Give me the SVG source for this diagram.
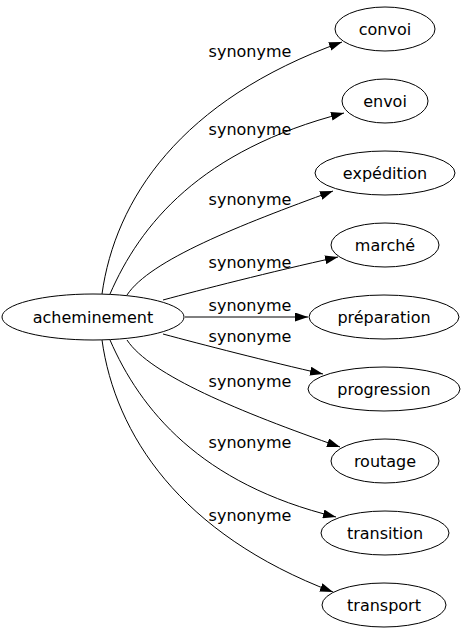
<svg xmlns="http://www.w3.org/2000/svg" width="465" height="635" viewBox="0 0 465 635">
<defs>
<marker id="arr" viewBox="0 0 13 9" refX="13" refY="4.5" markerWidth="13" markerHeight="9" markerUnits="userSpaceOnUse" orient="auto">
<path d="M0,0 L13,4.5 L0,9 Z" fill="#000"/>
</marker>
<style>
ellipse{fill:#fff;stroke:#000;stroke-width:1}
text{font-family:"DejaVu Sans",sans-serif;font-size:16px;fill:#000;text-anchor:middle}
.e{fill:none;stroke:#000;stroke-width:1;marker-end:url(#arr)}
</style>
</defs>
<rect width="465" height="635" fill="#fff"/>
<g id="connectors">
<path class="e" d="M102,294 C115,200 180,100 342,42"/>
<path class="e" d="M110,294 C140,225 200,150 344,113"/>
<path class="e" d="M127,295 C150,260 240,225 333,191"/>
<path class="e" d="M163,300 C200,290 270,272 338,257"/>
<path class="e" d="M185,317 L308,317"/>
<path class="e" d="M163,334 C200,344 270,362 323,374"/>
<path class="e" d="M127,340 C150,375 240,412 340,447"/>
<path class="e" d="M110,340 C140,409 200,484 336,517"/>
<path class="e" d="M102,340 C115,434 180,534 333,592"/>
<text x="250" y="57">synonyme</text>
<text x="250" y="135">synonyme</text>
<text x="250" y="205">synonyme</text>
<text x="250" y="268">synonyme</text>
<text x="250" y="311">synonyme</text>
<text x="250" y="342">synonyme</text>
<text x="250" y="387">synonyme</text>
<text x="250" y="448">synonyme</text>
<text x="250" y="521">synonyme</text>
</g>
<g id="acheminement"><ellipse cx="93" cy="317" rx="91" ry="23"/><text x="93" y="323">acheminement</text></g>
<g id="convoi"><ellipse cx="385" cy="29" rx="50" ry="22"/><text x="385" y="35">convoi</text></g>
<g id="envoi"><ellipse cx="385" cy="101" rx="43" ry="22"/><text x="385" y="107">envoi</text></g>
<g id="expedition"><ellipse cx="385" cy="173" rx="70" ry="22"/><text x="385" y="179">expédition</text></g>
<g id="marche"><ellipse cx="385" cy="245" rx="54" ry="22"/><text x="385" y="251">marché</text></g>
<g id="preparation"><ellipse cx="384" cy="317" rx="75" ry="22"/><text x="384" y="323">préparation</text></g>
<g id="progression"><ellipse cx="384" cy="389" rx="76" ry="22"/><text x="384" y="395">progression</text></g>
<g id="routage"><ellipse cx="385" cy="461" rx="54" ry="22"/><text x="385" y="467">routage</text></g>
<g id="transition"><ellipse cx="385" cy="533" rx="64" ry="22"/><text x="385" y="539">transition</text></g>
<g id="transport"><ellipse cx="384" cy="605" rx="62" ry="22"/><text x="384" y="611">transport</text></g>
</svg>
